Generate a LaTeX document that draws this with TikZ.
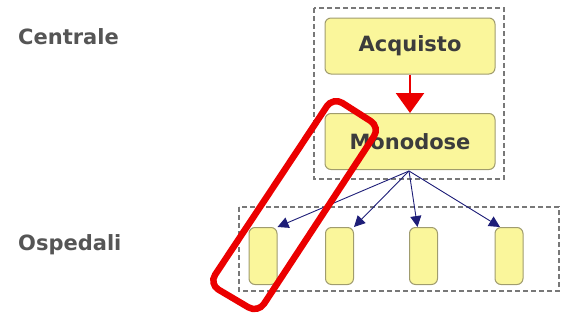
\documentclass[tikz,border=0pt]{standalone}
\usepackage{fontspec}
\setmainfont{DejaVu Sans}
\usetikzlibrary{arrows.meta}
\definecolor{boxfill}{RGB}{250,246,155}
\definecolor{boxdraw}{RGB}{160,156,110}
\definecolor{txtgray}{RGB}{60,60,60}
\definecolor{lblgray}{RGB}{85,85,85}
\definecolor{dashgray}{RGB}{120,120,120}
\definecolor{navy}{RGB}{30,30,120}
\definecolor{redann}{RGB}{235,0,0}
\tikzset{
  ybox/.style={draw=boxdraw, fill=boxfill, line width=1pt, rounded corners=6pt, inner sep=0pt},
  bigbox/.style={ybox, minimum width=170pt, minimum height=56pt, text=txtgray, font=\bfseries\fontsize{21}{24}\selectfont},
  smallbox/.style={ybox, minimum width=28pt, minimum height=57pt},
  group/.style={draw=dashgray, dash pattern=on 5pt off 3pt, line width=1.5pt},
  lbl/.style={anchor=base west, text=lblgray, font=\bfseries\fontsize{21}{24}\selectfont, inner sep=0pt},
  navyarrow/.style={draw=navy, line width=0.9pt, -{Triangle[length=11pt,width=11pt]}},
  redarrow/.style={draw=redann, line width=2.5pt, -{Triangle[length=20pt,width=28pt]}}
}
\begin{document}
\begin{tikzpicture}[x=1pt,y=-1pt]
\useasboundingbox (0,0) rectangle (563,322);
% group frames
\draw[group] (314,8) rectangle (504,179);
\draw[group] (239,207) rectangle (559,291);
% labels
\node[lbl] (centrale) at (18,44) {Centrale};
\node[lbl] (ospedali) at (18,250) {Ospedali};
% central boxes
\node[bigbox] (acq) at (410,46) {Acquisto};
\node[bigbox] (mono) at (410,141.5) {Monodose};
% hospital boxes
\node[smallbox] (h1) at (263,256) {};
\node[smallbox] (h2) at (339.5,256) {};
\node[smallbox] (h3) at (423.5,256) {};
\node[smallbox] (h4) at (509,256) {};
% connectors
\draw[redarrow] (acq.south) -- (mono.north);
\coordinate (src) at (409,171);
\draw[navyarrow] (src) -- (h1.north east);
\draw[navyarrow] (src) -- (h2.north east);
\draw[navyarrow] (src) -- ([xshift=-6pt]h3.north);
\draw[navyarrow] (src) -- ([xshift=-9pt]h4.north);
% red annotation
\coordinate (r1) at (333,97);
\coordinate (r2) at (380,127);
\coordinate (r3) at (258,313);
\coordinate (r4) at (209,284);
\draw[redann, line width=6.5pt, rounded corners=11pt] (r1) -- (r2) -- (r3) -- (r4) -- cycle;
\end{tikzpicture}
\end{document}
